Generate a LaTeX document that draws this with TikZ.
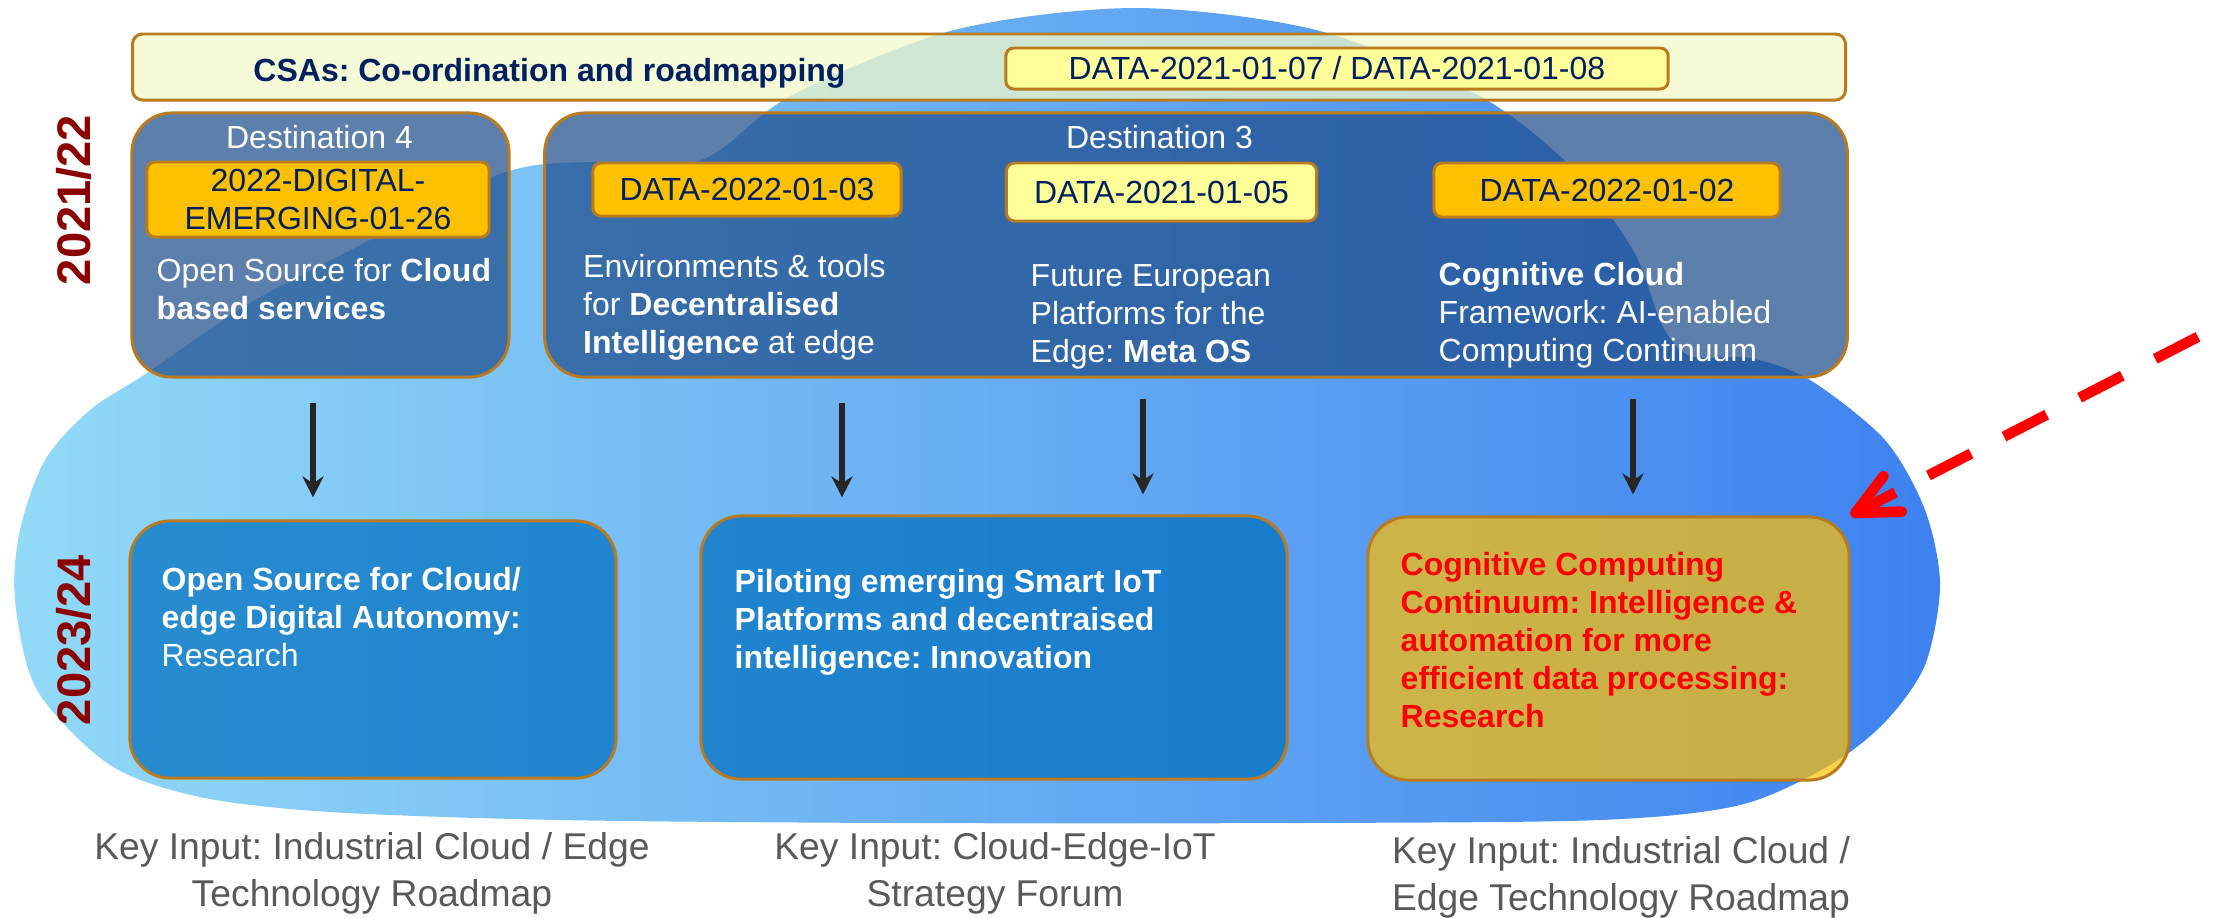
\documentclass[tikz,border=0pt]{standalone}
\usepackage{fontspec}
\setmainfont{Liberation Sans}
\usepackage{xcolor}
\usetikzlibrary{arrows, arrows.meta}
\usetikzlibrary{calc}
\frenchspacing

\definecolor{rimbrown}{RGB}{186,122,30}
\definecolor{navytext}{RGB}{0,32,96}
\definecolor{amber}{RGB}{255,192,0}
\definecolor{paleyellow}{RGB}{255,255,153}
\definecolor{barcream}{RGB}{242,250,200}
\definecolor{destblue}{RGB}{31,78,140}
\definecolor{taskblue}{RGB}{0,112,192}
\definecolor{blobleft}{RGB}{146,218,247}
\definecolor{blobright}{RGB}{62,130,240}
\definecolor{yearred}{RGB}{139,0,0}
\definecolor{inputgrey}{RGB}{89,89,89}
\definecolor{arrowgrey}{RGB}{38,38,38}

\newcommand{\boxfont}{\fontsize{9.1}{10.8}\selectfont}
\newcommand{\inputfont}{\fontsize{10.6}{13.1}\selectfont}
\newcommand{\yearfont}{\fontsize{13.4}{16}\selectfont\bfseries}

\begin{document}
\begin{tikzpicture}[x=0.01cm, y=-0.01cm,
        rim/.style={draw=rimbrown, line width=0.85pt, inner sep=0pt},
        destbox/.style={rim, rounded corners=0.4cm, fill=destblue, fill opacity=0.72},
        taskbox/.style={rim, rounded corners=0.4cm, fill=taskblue, fill opacity=0.72},
        codebox/.style={rim, rounded corners=0.08cm, fill=amber, text=navytext, font=\boxfont, align=center},
        heading/.style={inner sep=0pt, text=white, font=\boxfont, anchor=base},
        bodytext/.style={inner sep=0pt, text=white, font=\boxfont, align=left, anchor=base west},
        keyinput/.style={inner sep=0pt, text=inputgrey, font=\inputfont, align=center, anchor=base},
        yearlabel/.style={inner sep=0pt, text=yearred, font=\yearfont, rotate=90},
        flow/.style={draw=arrowgrey, line width=1.9pt, -{Stealth[length=0.21cm, width=0.21cm]}},
        hint/.style={draw=red, line width=3pt, dash pattern=on 0.48cm off 0.37cm, dash phase=0.613cm, -{Straight Barb[length=0.42cm, width=0.40cm, round]}}]
        \useasboundingbox (0,0) rectangle (2219,917);

        \shade [left color=blobleft, right color=blobright] plot [smooth cycle, tension=0.5] coordinates {
            (1135,8) (1316,30) (1476,94) (1569,165) (1633,250) (1662,325) (1690,356) (1750,358)
            (1810,380) (1885,440) (1925,510) (1940,585) (1925,665) (1885,722) (1830,765) (1740,805)
            (1600,820) (1300,823) (900,823) (560,820) (330,812) (200,797) (110,765) (37,690)
            (15,600) (20,530) (45,460) (90,410) (147,373) (250,303) (370,240) (470,186)
            (530,166) (600,162) (680,165) (720,150) (794,94) (954,30)};

        \node [rim, rounded corners=0.1cm, fill=barcream, fill opacity=0.75, minimum width=17.12cm, minimum height=0.66cm] (csabar) at (989,67) {};
        \node [inner sep=0pt, anchor=base, text=navytext, font=\boxfont\bfseries] (csatitle) at (549.5,81) {CSAs: Co-ordination and roadmapping};
        \node [codebox, fill=paleyellow, minimum width=6.62cm, minimum height=0.41cm] (csacode) at (1337,68.5) {DATA-2021-01-07 / DATA-2021-01-08};

        \node [destbox, minimum width=3.77cm, minimum height=2.64cm] (dfour) at (320.5,245) {};
        \node [destbox, minimum width=13.02cm, minimum height=2.64cm] (dthree) at (1196,245) {};
        \node [heading] (dfourname) at (319.5,148) {Destination 4};
        \node [heading] (dthreename) at (1159.5,148) {Destination 3};
        \node [codebox, minimum width=3.42cm, minimum height=0.75cm] (dfourcode) at (318,199.5) {2022-DIGITAL-\\EMERGING-01-26};
        \node [codebox, minimum width=3.08cm, minimum height=0.53cm] (edgecode) at (747,189.5) {DATA-2022-01-03};
        \node [codebox, fill=paleyellow, minimum width=3.10cm, minimum height=0.58cm] (metacode) at (1161.5,192) {DATA-2021-01-05};
        \node [codebox, minimum width=3.46cm, minimum height=0.54cm] (cloudcode) at (1607,190) {DATA-2022-01-02};
        \node [bodytext] (dfourtext) at (156,319) {Open Source for \textbf{Cloud}\\\textbf{based services}};
        \node [bodytext] (edgetext) at (582.5,353) {Environments \& tools\\for \textbf{Decentralised}\\\textbf{Intelligence} at edge};
        \node [bodytext] (metatext) at (1030,362) {Future European\\Platforms for the\\Edge: \textbf{Meta OS}};
        \node [bodytext] (cloudtext) at (1438,361) {\textbf{Cognitive Cloud}\\Framework: AI-enabled\\Computing Continuum};

        \node [taskbox, minimum width=4.86cm, minimum height=2.57cm] (osedge) at (373,649.5) {};
        \node [taskbox, minimum width=5.86cm, minimum height=2.63cm] (iotpilot) at (994,647.5) {};
        \node [taskbox, fill=amber, fill opacity=0.7, minimum width=4.81cm, minimum height=2.63cm] (cogcc) at (1608.5,648.5) {};
        \node [bodytext] (osedgetext) at (161,666) {\textbf{Open Source for Cloud/}\\\textbf{edge Digital Autonomy:}\\Research};
        \node [bodytext, font=\boxfont\bfseries] (iotpilottext) at (734,668) {Piloting emerging Smart IoT\\Platforms and decentraised\\intelligence: Innovation};
        \node [bodytext, text=red, font=\boxfont\bfseries] (cogcctext) at (1400,727) {Cognitive Computing\\Continuum: Intelligence \&\\automation for more\\efficient data processing:\\Research};

        \node [yearlabel] (yearfirst) at (73.5,200) {2021/22};
        \node [yearlabel] (yearsecond) at (73.5,640) {2023/24};

        \coordinate (lane1) at (313,0);
        \coordinate (lane2) at (842,0);
        \coordinate (lane3) at (1143,0);
        \coordinate (lane4) at (1633,0);
        \draw [flow, shorten <=0.24cm, shorten >=0.22cm] (dfour.south -| lane1) -- (osedge.north -| lane1);
        \draw [flow, shorten <=0.24cm, shorten >=0.17cm] (dthree.south -| lane2) -- (iotpilot.north -| lane2);
        \draw [flow, shorten <=0.20cm, shorten >=0.20cm] (dthree.south -| lane3) -- (iotpilot.north -| lane3);
        \draw [flow, shorten <=0.20cm, shorten >=0.21cm] (dthree.south -| lane4) -- (cogcc.north -| lane4);

        \coordinate (hintstart) at (2219,326);
        \draw [hint] (hintstart) -- (cogcc.north east);

        \node [keyinput] (inputone) at (372,906) {Key Input: Industrial Cloud / Edge\\Technology Roadmap};
        \node [keyinput] (inputtwo) at (995,906) {Key Input: Cloud-Edge-IoT\\Strategy Forum};
        \node [keyinput] (inputthree) at (1621,910) {Key Input: Industrial Cloud /\\Edge Technology Roadmap};
\end{tikzpicture}
\end{document}
